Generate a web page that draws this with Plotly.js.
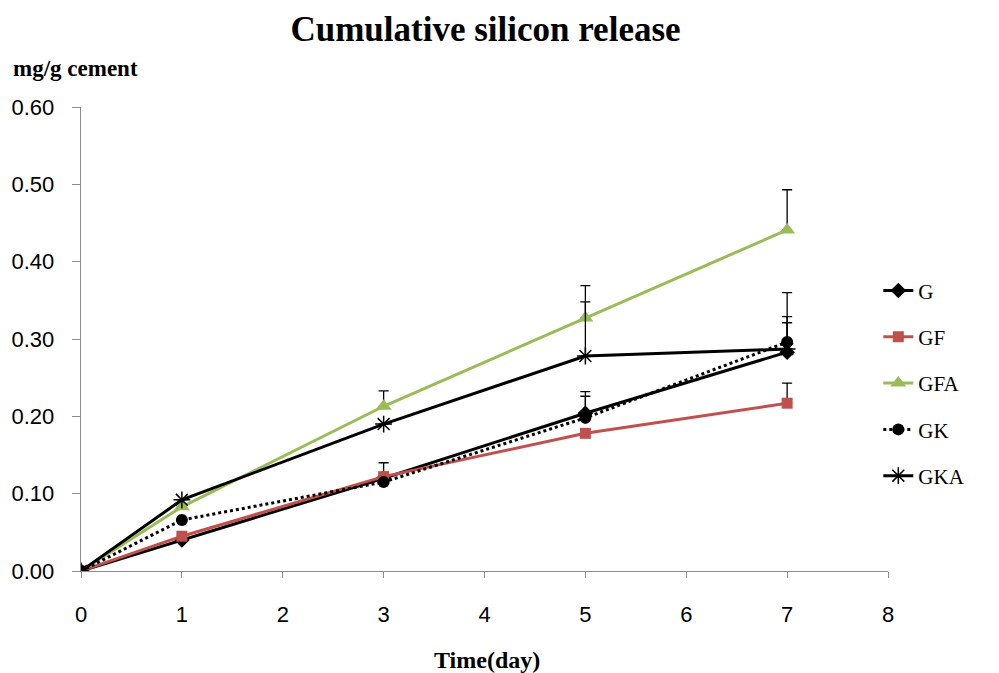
<!DOCTYPE html>
<html>
<head>
<meta charset="utf-8">
<script src="https://cdn.plot.ly/plotly-3.0.1.min.js"></script>
<style>html,body{margin:0;padding:0;background:#fff}#chart{width:999px;height:673px}</style>
</head>
<body>
<div id="chart"></div>
<script>
var days = [0, 1, 3, 5, 7];
var seriesNames = ["G", "GF", "GFA", "GK", "GKA"];
var G   = [0, 0.040, 0.120, 0.204, 0.283];
var GF  = [0, 0.045, 0.122, 0.178, 0.217];
var GFA = [0, 0.083, 0.213, 0.327, 0.441];
var GK  = [0, 0.066, 0.115, 0.198, 0.296];
var GKA = [0, 0.092, 0.190, 0.278, 0.287];
var errG   = [null, null, null, 0.028, 0.046];
var errGF  = [null, null, 0.018, null, 0.026];
var errGFA = [null, null, 0.020, 0.042, 0.052];
var errGK  = [null, null, null, 0.028, 0.064];
var errGKA = [null, null, null, 0.070, 0.034];
var xTicks = [0, 1, 2, 3, 4, 5, 6, 7, 8];
var yTicks = [0, 0.1, 0.2, 0.3, 0.4, 0.5, 0.6];

function err(arr) {
  return {type: "data", symmetric: false, array: arr, arrayminus: arr.map(function(v){return v===null?null:0;}),
          color: "#000", thickness: 1.3, width: 5};
}

var traces = [
  {x: days, y: G, name: seriesNames[0], legendgroup: "a", mode: "lines+markers",
   line: {color: "#000", width: 3}, marker: {symbol: "diamond", size: 12, color: "#000"}, error_y: err(errG)},
  {x: days, y: GF, name: seriesNames[1], legendgroup: "b", mode: "lines+markers",
   line: {color: "#c0504d", width: 3}, marker: {symbol: "square", size: 11, color: "#c0504d"}, error_y: err(errGF)},
  {x: days, y: GFA, name: seriesNames[2], legendgroup: "c", mode: "lines+markers",
   line: {color: "#9bbb59", width: 3}, marker: {symbol: "triangle-up", size: 14, color: "#9bbb59"}, error_y: err(errGFA)},
  {x: days, y: GK, name: seriesNames[3], legendgroup: "d", mode: "lines+markers",
   line: {color: "#000", width: 3, dash: "dot"}, marker: {symbol: "circle", size: 12, color: "#000"}, error_y: err(errGK)},
  {x: days, y: GKA, name: seriesNames[4], legendgroup: "e", mode: "lines+markers",
   line: {color: "#000", width: 3}, marker: {symbol: "asterisk-open", size: 14, color: "#000", line: {color: "#000", width: 1.5}}, error_y: err(errGKA)}
];

var layout = {
  width: 999, height: 673,
  margin: {l: 81, r: 111, t: 107, b: 102},
  paper_bgcolor: "#fff", plot_bgcolor: "#fff",
  showlegend: true,
  title: {text: "<b>Cumulative silicon release</b>", x: 0.486, xanchor: "center", y: 0.958, yanchor: "middle",
          font: {family: "Liberation Serif, serif", size: 35, color: "#000"}},
  xaxis: {range: [0, 8], tickvals: xTicks, ticktext: xTicks.map(String), showgrid: false, zeroline: false,
          showline: true, linecolor: "#8c8c8c", linewidth: 1.3, ticks: "outside", ticklen: 6, tickcolor: "#8c8c8c",
          ticklabelstandoff: 17,
          tickfont: {family: "Liberation Sans, sans-serif", size: 22, color: "#000"}},
  yaxis: {range: [0, 0.6], tickvals: yTicks, ticktext: yTicks.map(function(v){return v.toFixed(2);}), showgrid: false, zeroline: false,
          showline: true, linecolor: "#8c8c8c", linewidth: 1.3, ticks: "outside", ticklen: 8, tickcolor: "#8c8c8c",
          ticklabelstandoff: 13,
          tickfont: {family: "Liberation Sans, sans-serif", size: 22, color: "#000"}},
  legend: {x: 0.988, xanchor: "left", y: 0.648, yanchor: "top", tracegroupgap: 16,
           font: {family: "Liberation Serif, serif", size: 21, color: "#000"}, bgcolor: "rgba(0,0,0,0)"},
  annotations: [
    {text: "<b>mg/g cement</b>", xref: "paper", yref: "paper", x: -0.087, xanchor: "left", y: 1.084, yanchor: "middle",
     showarrow: false, font: {family: "Liberation Serif, serif", size: 23, color: "#000"}},
    {text: "<b>Time(day)</b>", xref: "paper", yref: "paper", x: 0.503, xanchor: "center", y: -0.192, yanchor: "middle",
     showarrow: false, font: {family: "Liberation Serif, serif", size: 24, color: "#000"}}
  ]
};

Plotly.newPlot("chart", traces, layout, {displayModeBar: false, staticPlot: true});
</script>
</body>
</html>
